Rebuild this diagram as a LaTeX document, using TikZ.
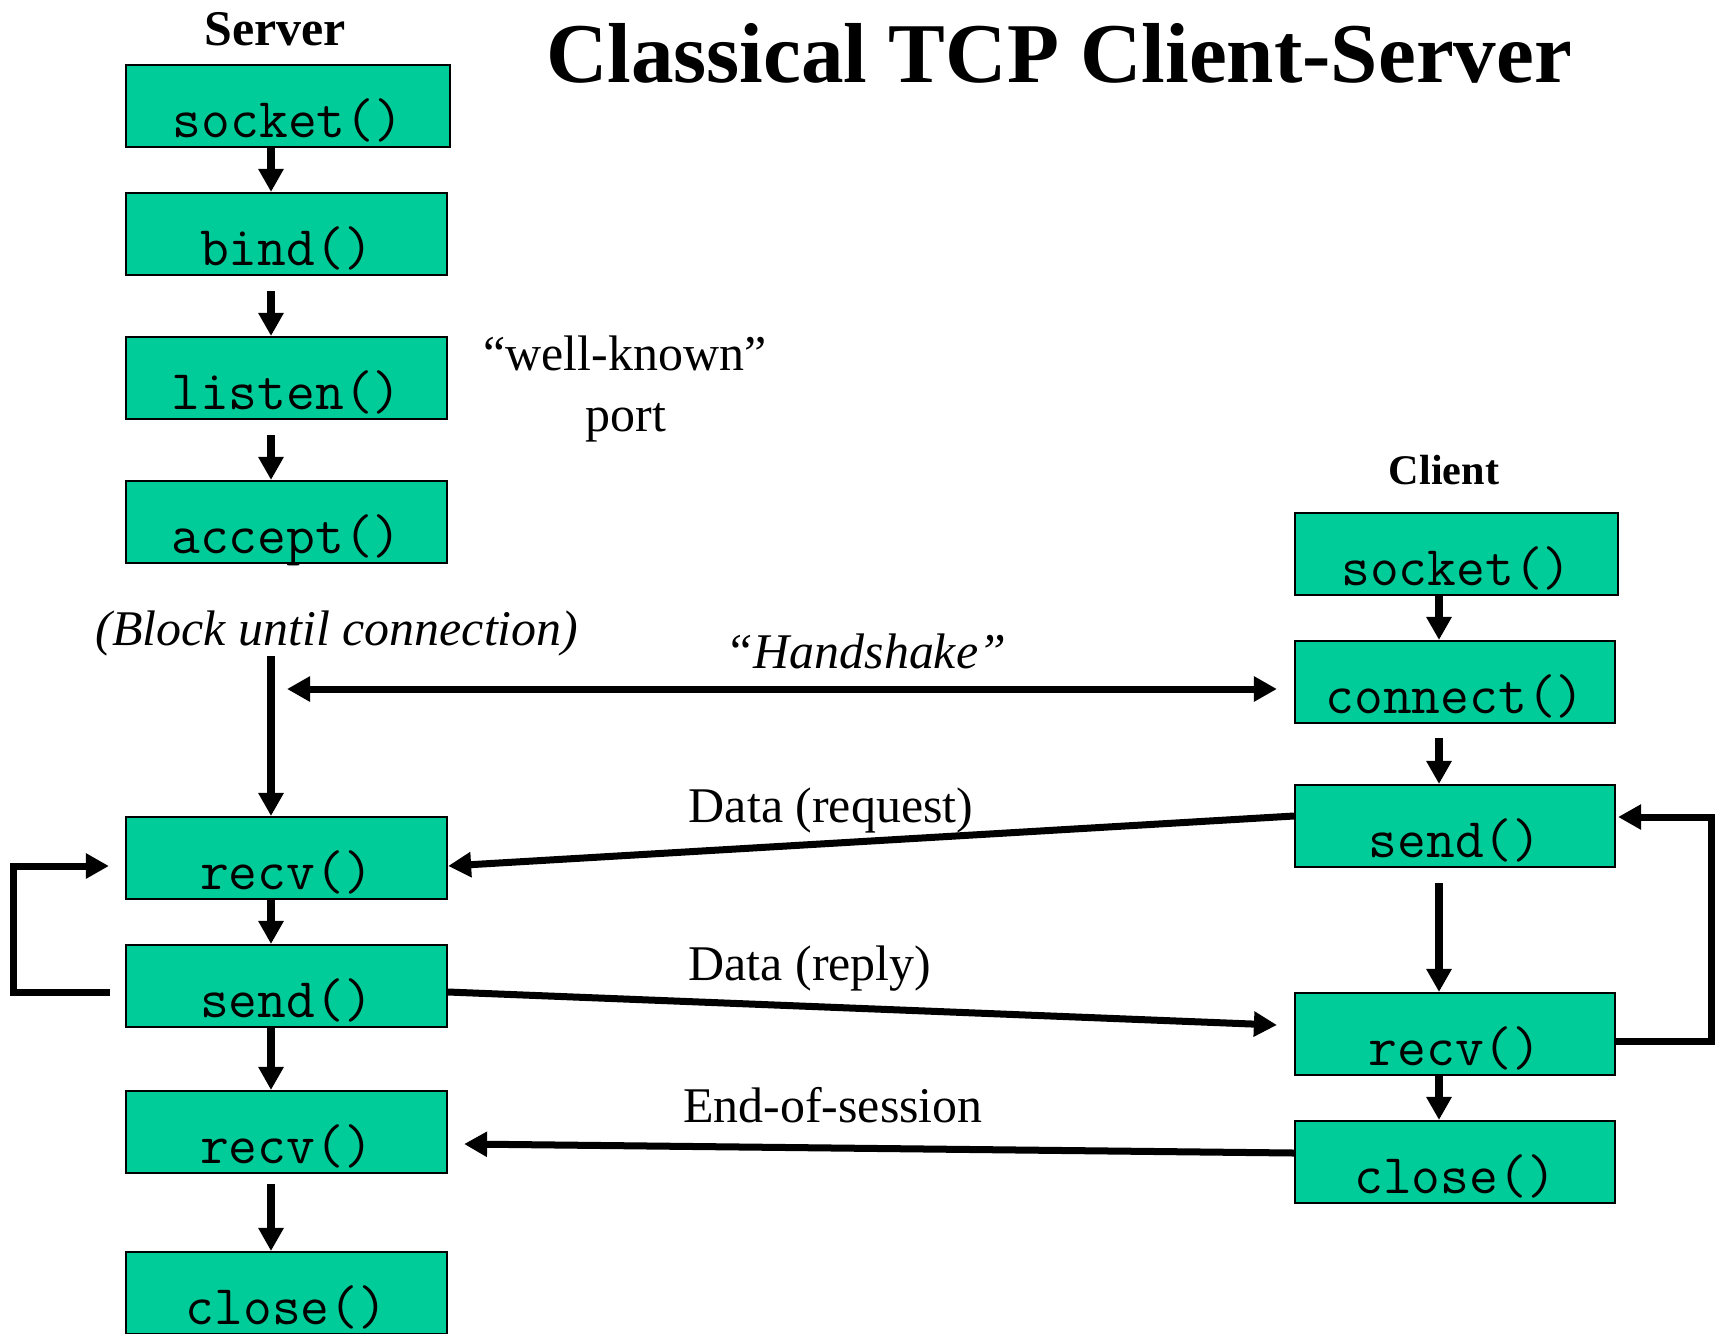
\documentclass[tikz,border=0pt]{standalone}
\usepackage{fontspec}
\setmainfont{Liberation Serif}
\usetikzlibrary{arrows.meta,calc}
\definecolor{boxgreen}{RGB}{0,204,153}
\tikzset{
  fnbox/.style={draw=black, line width=0.02cm, fill=boxgreen, inner sep=0pt,
    text height=0.72cm, text depth=0.1cm,
    font=\fontsize{15.9pt}{18pt}\selectfont\ttfamily},
  srvbox/.style={fnbox, minimum width=3.21cm},
  clibox/.style={fnbox, minimum width=3.20cm},
  tipshape/.tip={Triangle[length=0.23cm,width=0.24cm]},
  conn/.style={line width=0.07cm, -tipshape},
  vconn/.style={line width=0.085cm, -tipshape},
  dblconn/.style={line width=0.07cm, tipshape-tipshape},
  lbl/.style={inner sep=0pt, anchor=base, font=\fontsize{14.2pt}{17pt}\selectfont},
  ilbl/.style={lbl, font=\fontsize{14.2pt}{17pt}\selectfont\itshape},
}
\begin{document}
\begin{tikzpicture}[x=0.01cm,y=-0.01cm]
\useasboundingbox (0,0) rectangle (1721,1333);

% titles
\node[lbl, font=\fontsize{24.2pt}{29pt}\selectfont\bfseries] (title) at (1059,82) {Classical TCP Client-Server};
\node[lbl, font=\fontsize{14.2pt}{17pt}\selectfont\bfseries] (servert) at (275,45) {Server};
\node[lbl, font=\fontsize{12pt}{14pt}\selectfont\bfseries] (clientt) at (1444,484) {Client};

% server boxes
\node[fnbox, minimum width=3.24cm] (ssock) at (288,106) {socket()};
\node[srvbox] (sbind)  at (286.5,234) {bind()};
\node[srvbox] (slist)  at (286.5,378) {listen()};
\node[srvbox] (sacc)   at (286.5,522) {accept()};
\node[srvbox] (srecv)  at (286.5,858) {recv()};
\node[srvbox] (ssend)  at (286.5,986) {send()};
\node[srvbox] (srecv2) at (286.5,1132) {recv()};
\node[srvbox] (sclose) at (286.5,1293) {close()};

% client boxes
\node[fnbox, minimum width=3.23cm] (csock) at (1456.5,554) {socket()};
\node[clibox] (cconn)  at (1455,682) {connect()};
\node[clibox] (csend)  at (1455,826) {send()};
\node[clibox] (crecv)  at (1455,1034) {recv()};
\node[clibox] (cclose) at (1455,1162) {close()};

% labels
\node[lbl] (wk) at (625,370) {“well-known”};
\node[lbl] (port) at (626,431) {port};
\node[ilbl] (block) at (337,645) {(Block until connection)};
\node[ilbl] (hs) at (866,668) {“Handshake”};
\node[lbl] (dreq) at (831,822) {Data (request)};
\node[lbl] (drep) at (810,980) {Data (reply)};
\node[lbl] (eos) at (833,1122) {End-of-session};

% arrow columns
\coordinate (sx) at (271,0);
\coordinate (cx) at (1439,0);

% server vertical arrows
\draw[vconn] (ssock.south -| sx) -- (sbind.north -| sx);
\draw[vconn, shorten <=0.15cm] (sbind.south -| sx) -- (slist.north -| sx);
\draw[vconn, shorten <=0.15cm] (slist.south -| sx) -- (sacc.north -| sx);
\draw[vconn] (block.south -| sx) -- (srecv.north -| sx);
\draw[vconn] (srecv.south -| sx) -- (ssend.north -| sx);
\draw[vconn] (ssend.south -| sx) -- (srecv2.north -| sx);
\draw[vconn, shorten <=0.1cm] (srecv2.south -| sx) -- (sclose.north -| sx);

% client vertical arrows
\draw[vconn] (csock.south -| cx) -- (cconn.north -| cx);
\draw[vconn, shorten <=0.14cm] (cconn.south -| cx) -- (csend.north -| cx);
\draw[vconn, shorten <=0.15cm] (csend.south -| cx) -- (crecv.north -| cx);
\draw[vconn] (crecv.south -| cx) -- (cclose.north -| cx);

% handshake
\coordinate (hsL) at (287,689);
\draw[dblconn, shorten >=0.17cm] (hsL) -- (hsL -| cconn.west);

% data exchange
\draw[conn] ($(csend.west)+(0,-10)$) -- ($(srecv.east)+(0,8)$);
\draw[conn] ($(ssend.east)+(0,6)$) -- ($(crecv.west)+(-17,-9)$);
\draw[conn] ($(cclose.west)+(0,-9)$) -- ($(srecv2.east)+(16,12)$);

% loops
\draw[conn] ($(ssend.west)+(-15,6)$) -- ++(-96,0) |- ($(srecv.west)+(-16,8)$);
\draw[conn] ($(crecv.east)+(0,7)$) -- ++(95,0) |- ($(csend.east)+(2,-9)$);
\end{tikzpicture}
\end{document}
